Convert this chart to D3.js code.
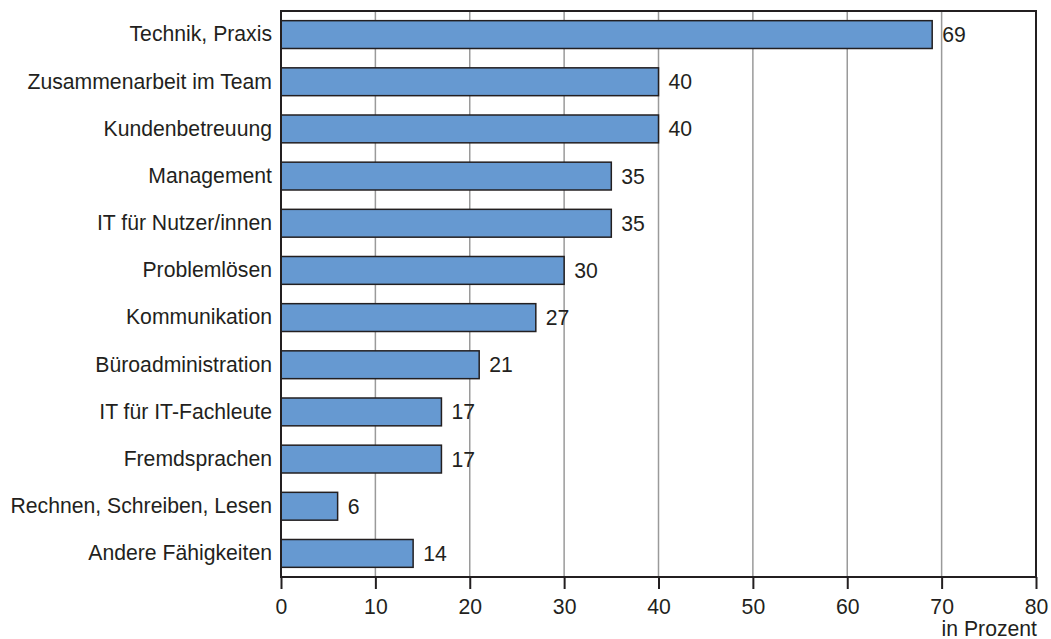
<!DOCTYPE html>
<html>
<head>
<meta charset="utf-8">
<script src="https://cdn.jsdelivr.net/npm/d3@7"></script>
<style>
  html, body { margin: 0; padding: 0; background: #fff; }
  svg { display: block; }
  text { font-family: "Liberation Sans", Arial, Helvetica, sans-serif; fill: #231f20; }
</style>
</head>
<body>
<svg id="chart" width="1051" height="639"></svg>
<script>
// Skills categories and their shares (in percent)
const categories = [
  "Technik, Praxis",
  "Zusammenarbeit im Team",
  "Kundenbetreuung",
  "Management",
  "IT für Nutzer/innen",
  "Problemlösen",
  "Kommunikation",
  "Büroadministration",
  "IT für IT-Fachleute",
  "Fremdsprachen",
  "Rechnen, Schreiben, Lesen",
  "Andere Fähigkeiten"
];
const values = [69, 40, 40, 35, 35, 30, 27, 21, 17, 17, 6, 14];
const xTicks = [0, 10, 20, 30, 40, 50, 60, 70, 80];
const unitLabel = "in Prozent";

const svg = d3.select("#chart");
const plotLeft = 281, plotRight = 1036, plotTop = 11, plotBottom = 577;
const fontSize = 21.2;

const x = d3.scaleLinear().domain([0, 80]).range([plotLeft, plotRight]);
const y = d3.scaleBand().domain(categories).range([plotTop, plotBottom]).paddingInner(0.41).paddingOuter(0.205);

// vertical grid lines
svg.append("g")
  .selectAll("line")
  .data(xTicks.filter(d => d > 0 && d < 80))
  .join("line")
  .attr("x1", d => x(d)).attr("x2", d => x(d))
  .attr("y1", plotTop).attr("y2", plotBottom)
  .attr("stroke", "#9a9a9a").attr("stroke-width", 1.5);

// bars
svg.append("g")
  .selectAll("rect")
  .data(values)
  .join("rect")
  .attr("x", x(0))
  .attr("y", (d, i) => y(categories[i]))
  .attr("width", d => x(d) - x(0))
  .attr("height", y.bandwidth())
  .attr("fill", "#6699d1")
  .attr("stroke", "#231f20")
  .attr("stroke-width", 1.5);

// value labels
svg.append("g")
  .selectAll("text")
  .data(values)
  .join("text")
  .attr("x", d => x(d) + 10)
  .attr("y", (d, i) => y(categories[i]) + y.bandwidth() / 2)
  .attr("dy", "0.35em")
  .attr("font-size", fontSize)
  .text(d => d);

// plot frame
svg.append("rect")
  .attr("x", plotLeft).attr("y", plotTop)
  .attr("width", plotRight - plotLeft).attr("height", plotBottom - plotTop)
  .attr("fill", "none")
  .attr("stroke", "#231f20").attr("stroke-width", 2);

// category axis (labels only)
const yAxis = svg.append("g")
  .attr("transform", `translate(${plotLeft},0)`)
  .call(d3.axisLeft(y).tickSize(0).tickPadding(9));
yAxis.select(".domain").remove();
yAxis.selectAll("text")
  .attr("font-size", fontSize)
  .attr("font-family", null)
  .attr("fill", null);

// value axis
const xAxis = svg.append("g")
  .attr("transform", `translate(0,${plotBottom})`)
  .call(d3.axisBottom(x).tickValues(xTicks).tickSize(12).tickPadding(10).tickFormat(d3.format("d")));
xAxis.select(".domain").remove();
xAxis.selectAll(".tick line").attr("stroke", "#231f20").attr("stroke-width", 2);
xAxis.selectAll("text")
  .attr("font-size", fontSize)
  .attr("font-family", null)
  .attr("fill", null);

// unit label
svg.append("text")
  .attr("x", plotRight + 1)
  .attr("y", 636)
  .attr("text-anchor", "end")
  .attr("font-size", fontSize)
  .text(unitLabel);
</script>
</body>
</html>
